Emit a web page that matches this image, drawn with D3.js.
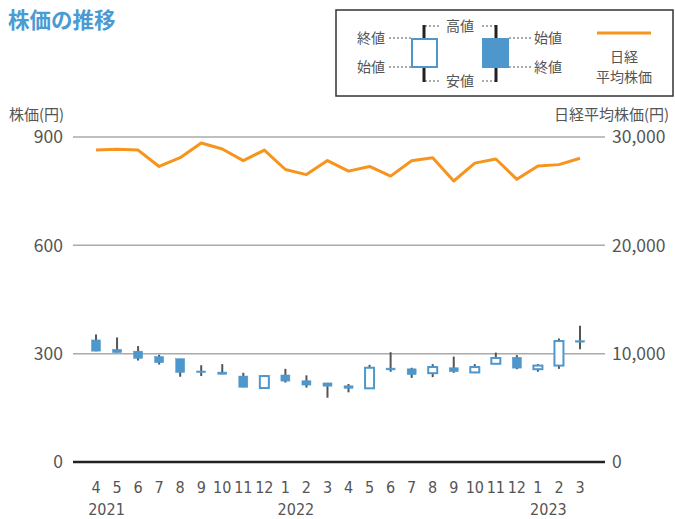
<!DOCTYPE html>
<meta charset="utf-8">
<style>
body { margin: 0; }
svg text { font-family: "Noto Sans CJK JP", "Noto Sans", sans-serif; fill: #555; }
.grid { stroke: #aaa; stroke-width: 1.5px; }
.wick { stroke: #555; stroke-width: 2px; }
.tick text { font-size: 17.5px; }
.month, .year { font-family: "DejaVu Sans Condensed", "Liberation Sans Narrow", sans-serif; font-size: 16px; }
</style>
<svg width="675" height="519"></svg>
<script src="https://cdn.jsdelivr.net/npm/d3@7"></script>
<script>

var months = ["4","5","6","7","8","9","10","11","12","1","2","3","4","5","6","7","8","9","10","11","12","1","2","3"];
var years = [["2021", 0], ["2022", 9], ["2023", 21]];

var open  = [338, 312, 307, 292, 286, 252, 249, 238, 205, 241, 225, 219, 211, 204, 260, 258, 246, 261, 248, 272, 290, 257, 267, 336];
var close = [307, 303, 287, 275, 248, 250, 243, 207, 238, 224, 213, 210, 204, 261, 255, 242, 263, 250, 263, 288, 260, 267, 335, 332];
var high  = [353, 345, 321, 297, 286, 268, 271, 247, 241, 258, 240, 219, 216, 269, 304, 261, 271, 292, 271, 303, 296, 271, 342, 377];
var low   = [307, 303, 281, 270, 236, 238, 243, 207, 205, 220, 206, 178, 193, 204, 250, 233, 235, 247, 246, 272, 257, 250, 258, 312];

var nikkei = [28800, 28860, 28790, 27280, 28090, 29450, 28890, 27820, 28790, 27000, 26530, 27820,
              26850, 27280, 26390, 27800, 28090, 25940, 27590, 27970, 26090, 27330, 27450, 28040];

var leftTicks = [0, 300, 600, 900];
var rightTicks = [0, 10000, 20000, 30000];

var blue = "#4e97cc", orange = "#f7941d";

var svg = d3.select("svg");

var x = d3.scalePoint().domain(d3.range(months.length)).range([96, 580]);
var yL = d3.scaleLinear().domain([0, 900]).range([462, 137]);
var yR = d3.scaleLinear().domain([0, 30000]).range([462, 137]);

// title
svg.append("text").attr("x", 8).attr("y", 28)
    .style("font-size", "21.5px").style("font-weight", "bold").style("fill", "#4a9bd2")
    .text("株価の推移");

// axis titles
svg.append("text").attr("x", 9).attr("y", 120).style("font-size", "15px").text("株価(円)");
svg.append("text").attr("x", 554).attr("y", 120).style("font-size", "15px").text("日経平均株価(円)");

// grid + left ticks
var gl = svg.append("g");
gl.selectAll("line").data(leftTicks.slice(1)).enter().append("line")
    .attr("class", "grid")
    .attr("x1", 73).attr("x2", 605)
    .attr("y1", yL).attr("y2", yL);

var lt = svg.append("g").attr("class", "tick");
lt.selectAll("text").data(leftTicks).enter().append("text")
    .attr("x", 63).attr("y", yL).attr("dy", "0.36em")
    .attr("text-anchor", "end")
    .text(function(d) { return d; });

var rt = svg.append("g").attr("class", "tick");
rt.selectAll("text").data(rightTicks).enter().append("text")
    .attr("x", 612).attr("y", yR).attr("dy", "0.36em")
    .text(d3.format(","));

// baseline
svg.append("line").attr("x1", 73).attr("x2", 605).attr("y1", yL(0)).attr("y2", yL(0))
    .style("stroke", "#222").style("stroke-width", 2.5);

// candles
var idx = d3.range(months.length);
var c = svg.append("g").selectAll("g").data(idx).enter().append("g");

c.append("line").attr("class", "wick")
    .attr("x1", x).attr("x2", x)
    .attr("y1", function(i) { return yL(high[i]); })
    .attr("y2", function(i) { return yL(low[i]); });

var bw = 9;
c.append("rect")
    .attr("x", function(i) { return x(i) - bw / 2; })
    .attr("width", bw)
    .attr("y", function(i) { return yL(Math.max(open[i], close[i])); })
    .attr("height", function(i) { return Math.max(1.5, Math.abs(yL(open[i]) - yL(close[i]))); })
    .style("fill", function(i) { return close[i] < open[i] ? blue : "#fff"; })
    .style("stroke", blue)
    .style("stroke-width", function(i) { return close[i] < open[i] ? 0.5 : 2; });

// nikkei line
svg.append("path")
    .datum(nikkei)
    .attr("d", d3.line().x(function(d, i) { return x(i); }).y(function(d) { return yR(d); }))
    .style("fill", "none").style("stroke", orange).style("stroke-width", 3)
    .style("stroke-linejoin", "round");

// month labels
svg.append("g").selectAll("text").data(months).enter().append("text")
    .attr("class", "month")
    .attr("x", function(d, i) { return x(i); }).attr("y", 493)
    .attr("text-anchor", "middle")
    .text(function(d) { return d; });

svg.append("g").selectAll("text").data(years).enter().append("text")
    .attr("class", "year")
    .attr("x", function(d) { return (x(d[1]) + x(d[1] + 1)) / 2; }).attr("y", 515)
    .attr("text-anchor", "middle")
    .text(function(d) { return d[0]; });

// legend
var lg = svg.append("g");
lg.append("rect").attr("x", 336).attr("y", 10).attr("width", 337).attr("height", 86)
    .style("fill", "#fff").style("stroke", "#333").style("stroke-width", 1.5);

var dot = function(x1, x2, y) {
  lg.append("line").attr("x1", x1).attr("x2", x2).attr("y1", y).attr("y2", y)
      .style("stroke", "#555").style("stroke-width", 1).style("stroke-dasharray", "2,2");
};
var ltext = function(t, xx, yy, anchor) {
  lg.append("text").attr("x", xx).attr("y", yy).attr("dy", "0.36em")
      .attr("text-anchor", anchor || "start").style("font-size", "14px").text(t);
};

dot(389, 411, 38); dot(389, 411, 67);
dot(425, 440, 26); dot(482, 496, 26);
dot(425, 440, 81); dot(482, 496, 81);
dot(509, 531, 38); dot(509, 531, 67);

lg.append("line").attr("x1", 424).attr("x2", 424).attr("y1", 25).attr("y2", 82)
    .style("stroke", "#222").style("stroke-width", 3);
lg.append("rect").attr("x", 412).attr("y", 39).attr("width", 25).attr("height", 28)
    .style("fill", "#fff").style("stroke", blue).style("stroke-width", 2);
lg.append("line").attr("x1", 496).attr("x2", 496).attr("y1", 25).attr("y2", 82)
    .style("stroke", "#222").style("stroke-width", 3);
lg.append("rect").attr("x", 482).attr("y", 38).attr("width", 27).attr("height", 30)
    .style("fill", blue);

ltext("終値", 357, 38); ltext("始値", 357, 67);
ltext("高値", 460, 26, "middle"); ltext("安値", 460, 81, "middle");
ltext("始値", 534, 38); ltext("終値", 534, 67);

lg.append("line").attr("x1", 597).attr("x2", 651).attr("y1", 33).attr("y2", 33)
    .style("stroke", orange).style("stroke-width", 3);
ltext("日経", 624, 57, "middle"); ltext("平均株価", 624, 77, "middle");

</script>
